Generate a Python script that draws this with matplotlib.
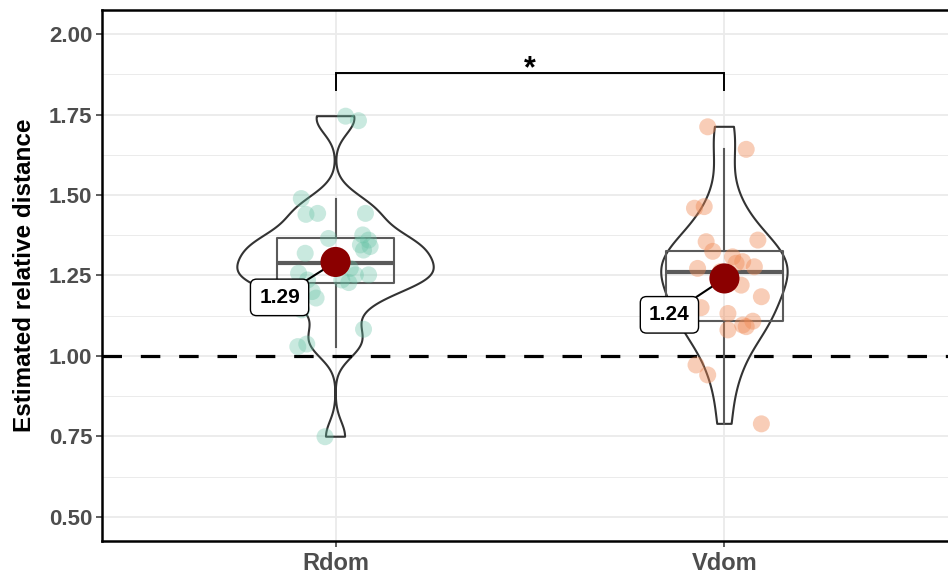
import numpy as np
import matplotlib
matplotlib.use("Agg")
import matplotlib.pyplot as plt
from matplotlib.ticker import MultipleLocator, FormatStrFormatter

plt.rcParams["font.family"] = ["Liberation Sans", "DejaVu Sans"]

# ---- data ----
groups = ["Rdom", "Vdom"]

rdom_vals = [1.745, 1.731, 1.489, 1.440, 1.443, 1.443, 1.365, 1.376, 1.360,
             1.345, 1.329, 1.340, 1.319, 1.257, 1.272, 1.252, 1.252, 1.236,
             1.228, 1.236, 1.143, 1.083, 1.029, 1.037, 0.749,
             1.290, 1.300, 1.200, 1.180]
rdom_jitter = [0.026, 0.059, -0.088, -0.076, -0.046, 0.077, -0.018, 0.070, 0.085,
               0.064, 0.072, 0.089, -0.078, -0.095, 0.038, 0.051, 0.085, 0.016,
               0.034, -0.072, -0.087, 0.072, -0.097, -0.074, -0.027,
               0.0, 0.01, -0.06, -0.05]

vdom_vals = [1.712, 1.642, 1.459, 1.464, 1.355, 1.360, 1.325, 1.308, 1.288,
             1.293, 1.272, 1.277, 1.220, 1.184, 1.132, 1.108, 1.096, 1.091,
             1.081, 0.972, 0.941, 0.789,
             1.240, 1.262, 1.150]
vdom_jitter = [-0.043, 0.056, -0.077, -0.052, -0.047, 0.086, -0.030, 0.021, 0.030,
               0.047, -0.069, 0.077, 0.043, 0.095, 0.009, 0.073, 0.047, 0.056,
               0.009, -0.073, -0.043, 0.095,
               0.0, -0.01, -0.06]

point_colors = ["#66C2A5", "#F08A55"]
point_alphas = [0.35, 0.42]
sig_label = "*"


def nrd0(x):
    x = np.asarray(x)
    sd = x.std(ddof=1)
    iqr = np.subtract(*np.percentile(x, [75, 25]))
    return 0.9 * min(sd, iqr / 1.34) * len(x) ** -0.2


data = [np.array(rdom_vals), np.array(vdom_vals)]
jitters = [np.array(rdom_jitter), np.array(vdom_jitter)]
positions = [1, 2]

fig = plt.figure(figsize=(9.48, 5.77), dpi=100)
ax = fig.add_axes([0.1078, 0.0624, 0.9025, 0.9203])

# violins
violin_widths = [0.505, 0.325]
bw_scale = [1.0, 1.12]
for vals, pos, w, bs in zip(data, positions, violin_widths, bw_scale):
    factor = bs * nrd0(vals) / vals.std(ddof=1)
    vp = ax.violinplot([vals], positions=[pos], widths=w, showextrema=False,
                       bw_method=factor, points=512)
    for body in vp["bodies"]:
        body.set_facecolor("none")
        body.set_edgecolor("#333333")
        body.set_linewidth(1.5)
        body.set_alpha(1)
        body.set_zorder(2)

# boxplots
ax.boxplot(data, positions=positions, widths=0.3, showfliers=False,
           showcaps=False, patch_artist=False, manage_ticks=False,
           boxprops=dict(color="#5a5a5a", linewidth=1.5),
           whiskerprops=dict(color="#5a5a5a", linewidth=1.5),
           medianprops=dict(color="#5a5a5a", linewidth=3),
           zorder=3)

# jittered points
for vals, jit, pos, col, a in zip(data, jitters, positions, point_colors, point_alphas):
    ax.scatter(pos + jit, vals, s=150, color=col, alpha=a,
               edgecolors="none", zorder=4)

# reference line
ax.axhline(1.0, color="black", linewidth=2.3, dashes=(6.1, 5.9), zorder=2.5)

# means with labels
label_offsets = [(-40.3, -25.5), (-39.6, -26.2)]
for vals, pos, off in zip(data, positions, label_offsets):
    m = vals.mean()
    ax.annotate(f"{m:.2f}", xy=(pos, m), xytext=off, textcoords="offset points",
                ha="center", va="center", fontsize=15, fontweight="bold",
                bbox=dict(boxstyle="round,pad=0.42,rounding_size=0.3",
                          fc="white", ec="black", lw=1.0),
                arrowprops=dict(arrowstyle="-", color="black", lw=1.5,
                                shrinkA=0, shrinkB=0),
                zorder=5)
    ax.scatter([pos], [m], s=470, color="#8B0000", edgecolors="none", zorder=6)

# significance bracket
ax.plot([1, 1, 2, 2], [1.826, 1.879, 1.879, 1.826], color="black",
        linewidth=1.4, solid_joinstyle="miter", zorder=5)
ax.text(1.5, 1.866, sig_label, ha="center", va="baseline", fontsize=22,
        fontweight="bold")

# axes styling
ax.set_xlim(0.4, 2.6)
ax.set_ylim(0.425, 2.075)
ax.set_xticks(positions)
ax.set_xticklabels(groups)
ax.yaxis.set_major_locator(MultipleLocator(0.25))
ax.yaxis.set_minor_locator(MultipleLocator(0.125))
ax.yaxis.set_major_formatter(FormatStrFormatter("%.2f"))
ax.set_ylabel("Estimated relative distance", fontsize=17.5, fontweight="bold",
              labelpad=9)

ax.grid(which="major", color="#EBEBEB", linewidth=1.3, zorder=0)
ax.grid(which="minor", axis="y", color="#EBEBEB", linewidth=0.7, zorder=0)
ax.set_axisbelow(True)

for sp in ax.spines.values():
    sp.set_linewidth(1.8)
    sp.set_color("black")

ax.tick_params(axis="both", which="major", direction="out", length=4,
               width=1.1, color="#333333", labelcolor="#4D4D4D")
ax.tick_params(axis="y", which="major", labelsize=16, pad=3)
ax.tick_params(axis="x", which="major", labelsize=17, pad=4)
ax.tick_params(axis="y", which="minor", length=0)
for lab in ax.get_xticklabels() + ax.get_yticklabels():
    lab.set_fontweight("bold")

fig.savefig("out.png", dpi=100)
